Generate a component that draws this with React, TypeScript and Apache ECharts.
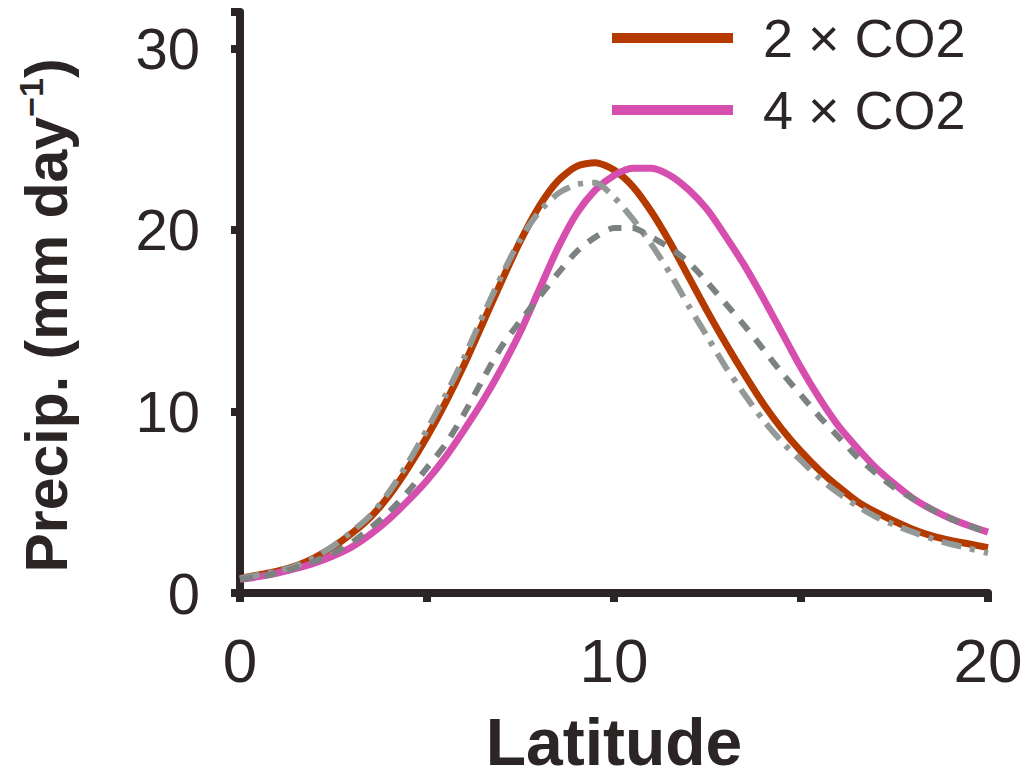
import React, { useEffect, useRef } from "react";
import * as echarts from "echarts";

const latitudes = [0, 0.5, 1, 1.5, 2, 2.5, 3, 3.5, 4, 4.5, 5, 5.5, 6, 6.5, 7, 7.5, 8, 8.5, 9, 9.5, 10, 10.5, 11, 11.5, 12, 12.5, 13, 13.5, 14, 14.5, 15, 15.5, 16, 16.5, 17, 17.5, 18, 18.5, 19, 19.5, 20];

const co2x2 = [0.8, 1.0, 1.2, 1.5, 1.95, 2.55, 3.3, 4.2, 5.4, 6.9, 8.6, 10.5, 12.6, 14.9, 17.2, 19.4, 21.3, 22.7, 23.5, 23.7, 23.3, 22.4, 21.0, 19.3, 17.4, 15.5, 13.7, 12.0, 10.4, 9.0, 7.8, 6.75, 5.85, 5.05, 4.45, 3.95, 3.5, 3.15, 2.9, 2.7, 2.5];

const co2x4 = [0.75, 0.9, 1.1, 1.35, 1.65, 2.05, 2.55, 3.25, 4.1, 5.1, 6.2, 7.5, 9.0, 10.6, 12.4, 14.4, 16.7, 19.0, 20.9, 22.2, 23.0, 23.4, 23.4, 23.0, 22.2, 21.1, 19.6, 18.0, 16.2, 14.3, 12.4, 10.7, 9.2, 8.0, 6.9, 6.0, 5.2, 4.6, 4.1, 3.7, 3.35];

const refDashDot = [0.8, 1.0, 1.2, 1.5, 1.95, 2.6, 3.4, 4.3, 5.6, 7.2, 9.0, 10.9, 13.0, 15.3, 17.5, 19.5, 21.0, 22.0, 22.5, 22.6, 21.8, 20.6, 19.2, 17.6, 15.8, 14.1, 12.4, 10.9, 9.5, 8.3, 7.3, 6.3, 5.5, 4.8, 4.2, 3.75, 3.35, 3.0, 2.7, 2.45, 2.2];

const refDashed = [0.75, 0.9, 1.1, 1.4, 1.75, 2.2, 2.8, 3.6, 4.5, 5.6, 6.9, 8.2, 9.9, 11.8, 13.6, 15.0, 16.3, 17.6, 18.8, 19.6, 20.1, 20.1, 19.6, 19.0, 18.2, 17.1, 15.9, 14.7, 13.4, 12.1, 10.9, 9.7, 8.6, 7.5, 6.6, 5.8, 5.2, 4.6, 4.1, 3.7, 3.35];

const legendNames = ["2 × CO2", "4 × CO2"];
const xTickLabels = [0, 10, 20];
const yTickLabels = [0, 10, 20, 30];

const AXIS = "#2b2525";
const FONT = "'Liberation Sans', Arial, Helvetica, sans-serif";

const pairs = (ys: number[]) => latitudes.map((x, i) => [x, ys[i]]);

export default function App() {
  const ref = useRef<HTMLDivElement>(null);
  useEffect(() => {
    document.body.style.margin = "0";
    const chart = echarts.init(ref.current!, undefined, { renderer: "svg" });
    chart.setOption({
      animation: false,
      backgroundColor: "#ffffff",
      textStyle: { fontFamily: FONT },
      grid: { left: 240, right: 40, top: 12, bottom: 186, outerBoundsMode: "none", containLabel: false },
      legend: {
        data: legendNames,
        orient: "vertical",
        left: 612,
        top: 11,
        padding: 0,
        icon: "rect",
        itemWidth: 121,
        itemHeight: 10,
        itemGap: 18,
        textStyle: {
          fontSize: 54,
          color: AXIS,
          fontFamily: FONT,
          lineHeight: 54,
          padding: [0, 0, 0, 25],
        },
      },
      xAxis: {
        type: "value",
        min: 0,
        max: 20,
        interval: 5,
        name: "Latitude",
        nameLocation: "middle",
        nameGap: 122,
        nameTextStyle: { fontSize: 66, fontWeight: "bold", color: AXIS, fontFamily: FONT, lineHeight: 54 },
        axisLine: { lineStyle: { color: AXIS, width: 8 } },
        axisTick: { length: 9, lineStyle: { color: AXIS, width: 8 } },
        splitLine: { show: false },
        axisLabel: {
          fontSize: 62,
          color: AXIS,
          margin: 36,
          fontFamily: FONT,
          formatter: (v: number) => (xTickLabels.includes(v) ? String(v) : ""),
        },
      },
      yAxis: {
        type: "value",
        min: 0,
        max: 32,
        interval: 10,
        name: "{b|Precip. (mm day}{sup|−1}{b|)}",
        nameLocation: "middle",
        nameGap: 160,
        nameTextStyle: {
          color: AXIS,
          fontFamily: FONT,
          padding: [0, 26, 0, 0],
          rich: {
            b: { fontSize: 59, fontWeight: "bold", color: AXIS, fontFamily: FONT, lineHeight: 66 },
            sup: { fontSize: 34, fontWeight: "bold", color: AXIS, fontFamily: FONT, verticalAlign: "top", lineHeight: 66, padding: [0, 0, 22, 0] },
          },
        },
        axisLine: { show: true, lineStyle: { color: AXIS, width: 8 } },
        axisTick: { show: true, length: 9, lineStyle: { color: AXIS, width: 8 } },
        splitLine: { show: false },
        axisLabel: {
          fontSize: 58,
          color: AXIS,
          margin: 40,
          fontFamily: FONT,
          formatter: (v: number) => (yTickLabels.includes(v) ? String(v) : ""),
        },
      },
      series: [
        {
          name: legendNames[0],
          type: "line",
          data: pairs(co2x2),
          color: "#b53a00",
          symbol: "none",
          smooth: 0.25,
          lineStyle: { width: 7, color: "#b53a00" },
          z: 2,
        },
        {
          name: legendNames[1],
          type: "line",
          data: pairs(co2x4),
          color: "#d64fae",
          symbol: "none",
          smooth: 0.25,
          lineStyle: { width: 7, color: "#d64fae" },
          z: 2,
        },
        {
          name: "ref-dashdot",
          type: "line",
          data: pairs(refDashDot),
          color: "#939997",
          symbol: "none",
          smooth: 0.25,
          lineStyle: { width: 6, color: "#939997", type: [20, 9, 5, 9], cap: "butt" },
          z: 3,
        },
        {
          name: "ref-dashed",
          type: "line",
          data: pairs(refDashed),
          color: "#7c8281",
          symbol: "none",
          smooth: 0.25,
          lineStyle: { width: 6, color: "#7c8281", type: [13, 11], cap: "butt" },
          z: 3,
        },
      ],
    });
    return () => chart.dispose();
  }, []);
  return <div ref={ref} style={{ width: 1028, height: 779 }} />;
}
